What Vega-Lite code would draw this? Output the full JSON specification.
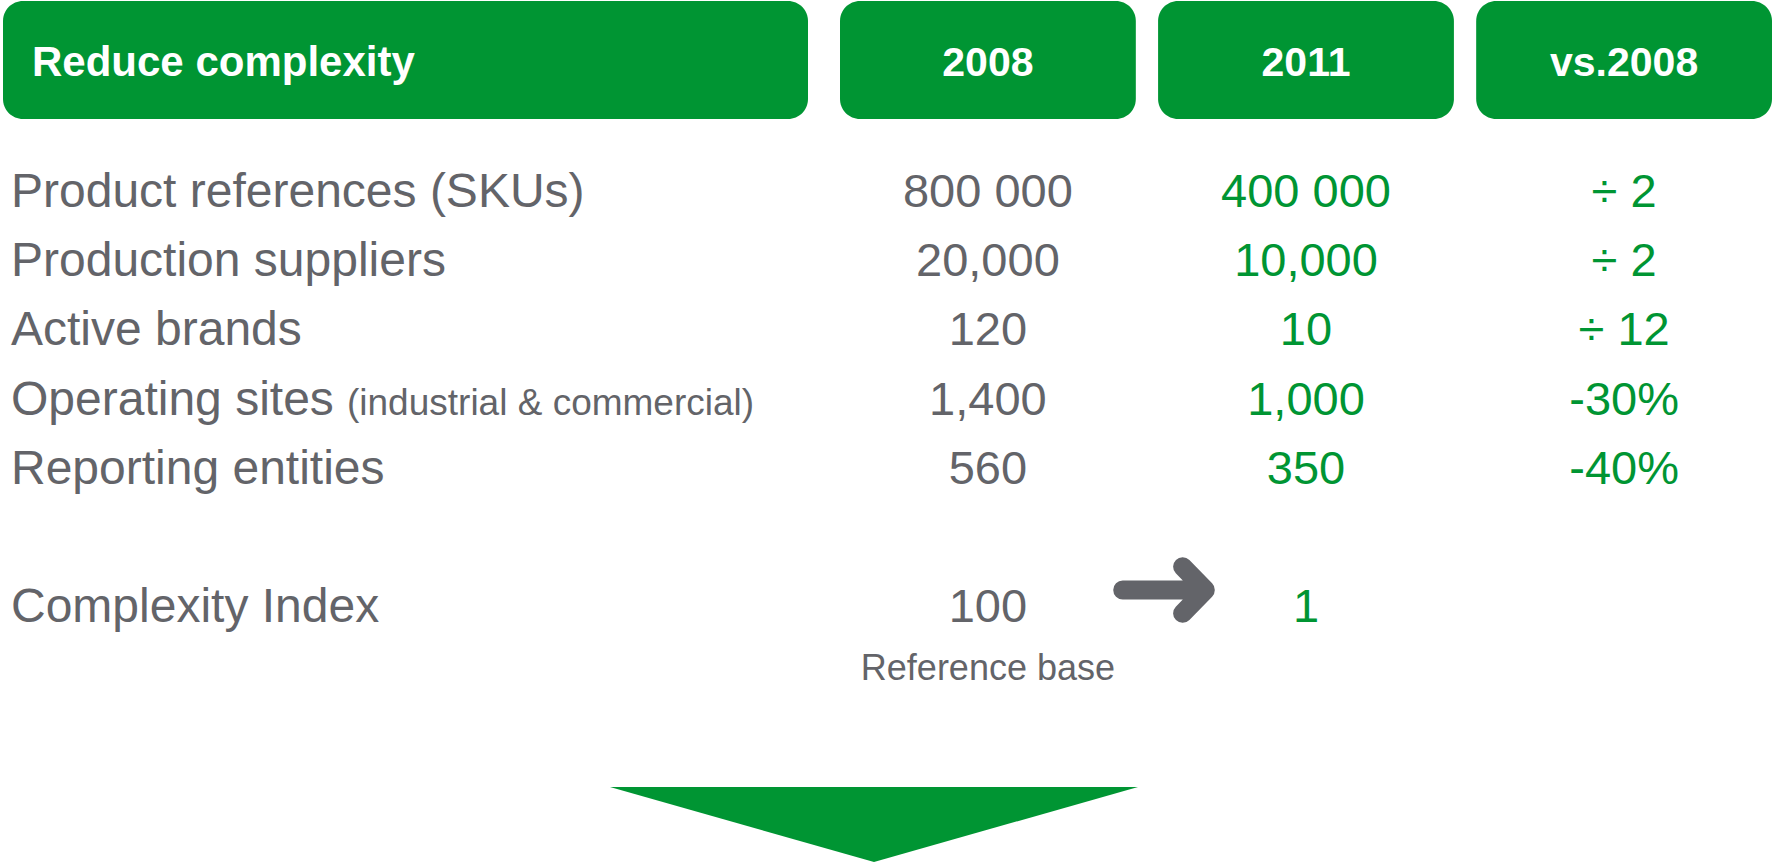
{
  "$schema": "https://vega.github.io/schema/vega-lite/v6.json",
  "width": 1772,
  "height": 865,
  "autosize": {"type": "fit", "contains": "padding"},
  "padding": 0,
  "background": "#ffffff",
  "config": {
    "view": {"stroke": null},
    "axis": {"disable": true},
    "legend": {"disable": true},
    "text": {"font": "Liberation Sans"}
  },
  "datasets": {
    "title": [{"header": "Reduce complexity"}],
    "columns": [{"header": "2008"}, {"header": "2011"}, {"header": "vs.2008"}],
    "metrics": [
      {"metric": "Product references (SKUs)", "note": null},
      {"metric": "Production suppliers", "note": null},
      {"metric": "Active brands", "note": null},
      {"metric": "Operating sites", "note": "(industrial & commercial)"},
      {"metric": "Reporting entities", "note": null},
      {"metric": "Complexity Index", "note": null}
    ],
    "cells": [
      {"metric": "Product references (SKUs)", "column": "2008", "value": "800 000", "caption": null},
      {"metric": "Product references (SKUs)", "column": "2011", "value": "400 000", "caption": null},
      {"metric": "Product references (SKUs)", "column": "vs.2008", "value": "÷ 2", "caption": null},
      {"metric": "Production suppliers", "column": "2008", "value": "20,000", "caption": null},
      {"metric": "Production suppliers", "column": "2011", "value": "10,000", "caption": null},
      {"metric": "Production suppliers", "column": "vs.2008", "value": "÷ 2", "caption": null},
      {"metric": "Active brands", "column": "2008", "value": "120", "caption": null},
      {"metric": "Active brands", "column": "2011", "value": "10", "caption": null},
      {"metric": "Active brands", "column": "vs.2008", "value": "÷ 12", "caption": null},
      {"metric": "Operating sites", "column": "2008", "value": "1,400", "caption": null},
      {"metric": "Operating sites", "column": "2011", "value": "1,000", "caption": null},
      {"metric": "Operating sites", "column": "vs.2008", "value": "-30%", "caption": null},
      {"metric": "Reporting entities", "column": "2008", "value": "560", "caption": null},
      {"metric": "Reporting entities", "column": "2011", "value": "350", "caption": null},
      {"metric": "Reporting entities", "column": "vs.2008", "value": "-40%", "caption": null},
      {"metric": "Complexity Index", "column": "2008", "value": "100", "caption": "Reference base"},
      {"metric": "Complexity Index", "column": "2011", "value": "1", "caption": null}
    ],
    "links": [{"metric": "Complexity Index", "from": "2008", "to": "2011"}],
    "next": [{"step": "conclusion"}]
  },
  "resolve": {"scale": {"x": "independent", "y": "independent", "color": "independent"}},
  "layer": [
    {
      "data": {"name": "title"},
      "mark": {"type": "rect", "color": "#009533", "cornerRadius": 20},
      "encoding": {
        "x": {"field": "header", "type": "nominal", "axis": null, "scale": {"type": "band", "domain": ["Reduce complexity"], "range": [3, 808], "paddingInner": 0, "paddingOuter": 0}},
        "y": {"datum": "header", "type": "nominal", "axis": null, "scale": {"type": "band", "domain": ["header"], "range": [1, 119], "paddingInner": 0, "paddingOuter": 0}}
      }
    },
    {
      "data": {"name": "title"},
      "mark": {"type": "text", "color": "#ffffff", "fontWeight": "bold", "fontSize": 42, "align": "left", "baseline": "alphabetic", "dx": 29},
      "encoding": {
        "x": {"field": "header", "type": "nominal", "axis": null, "bandPosition": 0, "scale": {"type": "band", "domain": ["Reduce complexity"], "range": [3, 808], "paddingInner": 0, "paddingOuter": 0}},
        "y": {"datum": "header", "type": "nominal", "axis": null, "bandPosition": 0.636, "scale": {"type": "band", "domain": ["header"], "range": [1, 119], "paddingInner": 0, "paddingOuter": 0}},
        "text": {"field": "header"}
      }
    },
    {
      "data": {"name": "columns"},
      "mark": {"type": "rect", "color": "#009533", "cornerRadius": 20},
      "encoding": {
        "x": {"field": "header", "type": "nominal", "axis": null, "scale": {"type": "band", "domain": ["2008", "2011", "vs.2008"], "range": [840, 1772], "paddingInner": 0.07, "paddingOuter": 0}},
        "y": {"datum": "header", "type": "nominal", "axis": null, "scale": {"type": "band", "domain": ["header"], "range": [1, 119], "paddingInner": 0, "paddingOuter": 0}}
      }
    },
    {
      "data": {"name": "columns"},
      "mark": {"type": "text", "color": "#ffffff", "fontWeight": "bold", "fontSize": 41, "align": "center", "baseline": "alphabetic"},
      "encoding": {
        "x": {"field": "header", "type": "nominal", "axis": null, "scale": {"type": "band", "domain": ["2008", "2011", "vs.2008"], "range": [840, 1772], "paddingInner": 0.07, "paddingOuter": 0}},
        "y": {"datum": "header", "type": "nominal", "axis": null, "bandPosition": 0.636, "scale": {"type": "band", "domain": ["header"], "range": [1, 119], "paddingInner": 0, "paddingOuter": 0}},
        "text": {"field": "header"}
      }
    },
    {
      "data": {"name": "metrics"},
      "mark": {"type": "text", "color": "#636469", "fontSize": 48, "align": "left", "baseline": "alphabetic", "dx": 8},
      "encoding": {
        "x": {"datum": "Reduce complexity", "type": "nominal", "axis": null, "bandPosition": 0, "scale": {"type": "band", "domain": ["Reduce complexity"], "range": [3, 808], "paddingInner": 0, "paddingOuter": 0}},
        "y": {"field": "metric", "type": "nominal", "axis": null, "scale": {"type": "point", "domain": ["Product references (SKUs)", "Production suppliers", "Active brands", "Operating sites", "Reporting entities", " ", "Complexity Index"], "range": [207, 622], "padding": 0}},
        "text": {"field": "metric"}
      }
    },
    {
      "data": {"name": "metrics"},
      "transform": [{"filter": "datum.note != null"}],
      "mark": {"type": "text", "color": "#636469", "fontSize": 37, "align": "left", "baseline": "alphabetic", "dx": 344},
      "encoding": {
        "x": {"datum": "Reduce complexity", "type": "nominal", "axis": null, "bandPosition": 0, "scale": {"type": "band", "domain": ["Reduce complexity"], "range": [3, 808], "paddingInner": 0, "paddingOuter": 0}},
        "y": {"field": "metric", "type": "nominal", "axis": null, "scale": {"type": "point", "domain": ["Product references (SKUs)", "Production suppliers", "Active brands", "Operating sites", "Reporting entities", " ", "Complexity Index"], "range": [207, 622], "padding": 0}},
        "text": {"field": "note"}
      }
    },
    {
      "data": {"name": "cells"},
      "mark": {"type": "text", "fontSize": 47, "align": "center", "baseline": "alphabetic"},
      "encoding": {
        "x": {"field": "column", "type": "nominal", "axis": null, "scale": {"type": "band", "domain": ["2008", "2011", "vs.2008"], "range": [840, 1772], "paddingInner": 0.07, "paddingOuter": 0}},
        "y": {"field": "metric", "type": "nominal", "axis": null, "scale": {"type": "point", "domain": ["Product references (SKUs)", "Production suppliers", "Active brands", "Operating sites", "Reporting entities", " ", "Complexity Index"], "range": [207, 622], "padding": 0}},
        "color": {"field": "column", "type": "nominal", "legend": null, "scale": {"domain": ["2008", "2011", "vs.2008"], "range": ["#636469", "#009533", "#009533"]}},
        "text": {"field": "value"}
      }
    },
    {
      "data": {"name": "cells"},
      "transform": [{"filter": "datum.caption != null"}],
      "mark": {"type": "text", "color": "#636469", "fontSize": 36, "align": "center", "baseline": "alphabetic", "dy": 58},
      "encoding": {
        "x": {"field": "column", "type": "nominal", "axis": null, "scale": {"type": "band", "domain": ["2008", "2011", "vs.2008"], "range": [840, 1772], "paddingInner": 0.07, "paddingOuter": 0}},
        "y": {"field": "metric", "type": "nominal", "axis": null, "scale": {"type": "point", "domain": ["Product references (SKUs)", "Production suppliers", "Active brands", "Operating sites", "Reporting entities", " ", "Complexity Index"], "range": [207, 622], "padding": 0}},
        "text": {"field": "caption"}
      }
    },
    {
      "data": {"name": "links"},
      "mark": {"type": "point", "shape": "M-1,0L1,0M0.45,-0.564L1,0L0.45,0.564", "size": 6823, "filled": false, "opacity": 1, "color": "#636469", "strokeWidth": 19, "strokeCap": "round", "strokeJoin": "round", "yOffset": -32},
      "encoding": {
        "x": {"field": "from", "type": "nominal", "axis": null, "bandPosition": 1.0953, "scale": {"type": "band", "domain": ["2008", "2011", "vs.2008"], "range": [840, 1772], "paddingInner": 0.07, "paddingOuter": 0}},
        "y": {"field": "metric", "type": "nominal", "axis": null, "scale": {"type": "point", "domain": ["Product references (SKUs)", "Production suppliers", "Active brands", "Operating sites", "Reporting entities", " ", "Complexity Index"], "range": [207, 622], "padding": 0}}
      }
    },
    {
      "data": {"name": "next"},
      "mark": {"type": "point", "shape": "M-1,-0.142L1,-0.142L0,0.142Z", "size": 278784, "filled": true, "opacity": 1, "color": "#009533", "strokeWidth": 0},
      "encoding": {
        "x": {"field": "step", "type": "nominal", "axis": null, "scale": {"type": "band", "domain": ["conclusion"], "range": [610, 1138], "paddingInner": 0, "paddingOuter": 0}},
        "y": {"field": "step", "type": "nominal", "axis": null, "scale": {"type": "band", "domain": ["conclusion"], "range": [787, 862], "paddingInner": 0, "paddingOuter": 0}}
      }
    }
  ]
}
